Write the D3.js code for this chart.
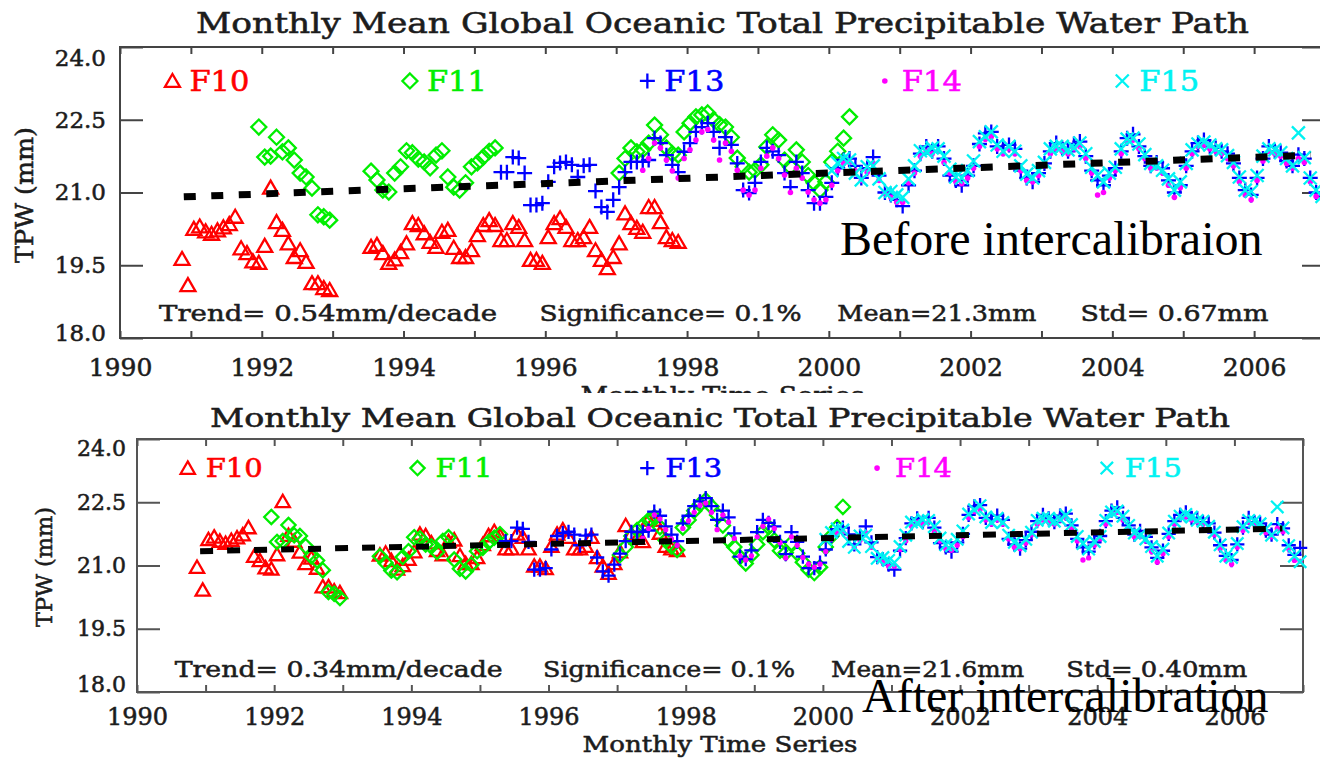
<!DOCTYPE html>
<html>
<head>
<meta charset="utf-8">
<script src="https://cdn.jsdelivr.net/npm/d3@7"></script>
<style>
  html, body { margin: 0; padding: 0; background: #fff; }
  svg { display: block; }
</style>
</head>
<body>
<svg id="chart" width="1320" height="759"></svg>
<script>
// ---------------- data ----------------
const satellites = ["F10", "F11", "F13", "F14", "F15"];
// first month [year, month] of each satellite record
const startMonths = [[1990, 11], [1991, 12], [1995, 5], [1997, 5], [2000, 1]];
const yTickValues = [18, 19.5, 21, 22.5, 24];
const xTickYears = d3.range(1990, 2008);
const chartTitle = "Monthly Mean Global Oceanic Total Precipitable Water Path";
const xAxisTitle = "Monthly Time Series";
const yAxisTitle = "TPW (mm)";

// monthly means (mm), null = no data for that month
const f10Before = [19.63, 19.09,
  20.25, 20.30, 20.20, 20.15, 20.22, 20.28, 20.35, 20.50, 19.85, 19.75, 19.58, 19.55,
  19.90, 21.10, 20.39, 20.23, 19.95, 19.67, 19.81, 19.57, 19.13, 19.13, 19.03, 18.99,
  null, null, null, null, null, null, 19.88, 19.92, 19.75, 19.55, 19.62, 19.77,
  19.95, 20.37, 20.33, 20.16, 19.98, 19.88, 20.19, 20.23, 19.86, 19.67, 19.67, 19.81,
  20.12, 20.33, 20.43, 20.33, 20.02, 20.02, 20.37, 20.29, 20.02, 19.61, 19.61, 19.55,
  20.08, 20.37, 20.47, 20.29, 20.02, 20.02, 20.08, 20.29, 19.81, 19.61, 19.44, 19.67,
  19.95, 20.57, 20.37, 20.27, 20.19, 20.70, 20.70, 20.39, 20.08, 20.02, 19.98];
const f11Before = [22.35,
  21.73, 21.75, 22.14, 21.84, 21.92, 21.67, 21.40, 21.32, 21.09, 20.54, 20.50, 20.43,
  null, null, null, null, null, null, 21.44, 21.26, 21.05, 21.01, 21.40, 21.53,
  21.86, 21.82, 21.69, 21.63, 21.51, 21.77, 21.86, 21.32, 21.11, 21.05, 21.20, 21.53,
  21.61, 21.73, 21.85, 21.92, null, null, null, null, null, null, null, null,
  null, null, null, null, null, null, null, null, null, null, null, null,
  21.40, 21.70, 21.92, 21.84, 21.88, 22.02, 22.39, 22.19, 21.92, 21.80, 21.77, 22.25,
  22.43, 22.56, 22.60, 22.64, 22.50, 22.40, 22.35, 22.14, 21.71, 21.53, 21.42, 21.46,
  21.57, 21.94, 22.19, 22.08, 21.67, 21.53, 21.88, 21.63, 21.35, 21.20, 21.05, 21.22,
  21.63, 21.85, 22.12, 22.56];
const f13Before = [21.42, 21.42, 21.73, 21.71, 21.40, 20.74, 20.74, 20.78,
  21.22, 21.53, 21.61, 21.63, 21.57, 21.32, 21.55, 21.57, 21.03, 20.70, 20.60, 20.85,
  21.11, 21.42, 21.63, 21.63, 21.63, 21.67, 22.12, 22.02, 21.77, 21.57, 21.42, 21.84,
  22.02, 22.25, 22.35, 22.43, 22.25, 21.92, 22.14, 21.98, 21.60, 21.05, 20.99, 21.20,
  21.63, 21.92, 21.85, 21.77, 21.40, 21.11, 21.63, 21.40, 21.05, 20.78, 20.78, 20.91,
  21.20, 21.50, 21.67, 21.70, 21.55, 21.30, 21.50, 21.73, 21.35, 21.00, 20.95, 20.85,
  20.72, 21.15, 21.45, 21.80, 21.95, 21.85, 21.95, 21.70, 21.35, 21.25, 21.15, 21.35,
  21.55, 22.00, 22.22, 22.25, 21.95, 21.90, 21.98, 21.90, 21.45, 21.30, 21.22, 21.40,
  21.60, 21.85, 22.02, 21.92, 21.85, 22.00, 22.05, 21.75, 21.45, 21.25, 21.15, 21.35,
  21.50, 21.85, 22.12, 22.20, 21.95, 21.75, 21.55, 21.62, 21.50, 21.25, 21.00, 21.15,
  21.55, 21.85, 22.02, 22.08, 21.95, 21.92, 21.85, 21.80, 21.60, 21.30, 21.05, 20.95,
  21.30, 21.70, 21.95, 21.85, 21.82, 21.65, 21.55, 21.78, 21.70, 21.30, 21.00, 20.92];
const f14Before = [21.46, 21.70, 22.02, 21.92, 21.67, 21.45, 21.30, 21.70,
  21.88, 22.08, 22.25, 22.30, 22.08, 21.67, 22.02, 21.85, 21.46, 21.05, 20.95, 21.05,
  21.50, 21.75, 21.92, 21.70, 21.36, 21.00, 21.50, 21.30, 21.01, 20.85, 20.78, 20.85,
  21.15, 21.45, 21.60, 21.62, 21.45, 21.25, 21.42, 21.60, 21.25, 20.98, 20.90, 20.80,
  20.80, 21.20, 21.40, 21.75, 21.85, 21.80, 21.85, 21.62, 21.40, 21.22, 21.18, 21.30,
  21.50, 21.95, 22.10, 22.15, 21.90, 21.80, 21.90, 21.80, 21.45, 21.25, 21.22, 21.35,
  21.55, 21.80, 21.90, 21.85, 21.80, 21.90, 21.95, 21.70, 21.40, 20.95, 21.00, 21.30,
  21.45, 21.80, 22.05, 22.08, 21.90, 21.70, 21.50, 21.50, 21.40, 21.15, 20.90, 21.10,
  21.50, 21.80, 21.95, 21.98, 21.90, 21.85, 21.80, 21.70, 21.55, 21.22, 20.95, 20.85,
  21.25, 21.65, 21.85, 21.80, 21.75, 21.60, 21.50, 21.70, 21.62, 21.22, 20.92, 20.88];
const f15Before = [21.45, 21.61, 21.70, 21.67, 21.40, 21.26, 21.53, 21.55, 21.28, 21.00, 21.02, 20.95,
  20.90, 21.28, 21.55, 21.86, 21.84, 21.92, 21.90, 21.75, 21.48, 21.32, 21.30, 21.45,
  21.65, 22.05, 22.15, 22.25, 21.98, 21.85, 21.95, 21.85, 21.55, 21.38, 21.30, 21.45,
  21.62, 21.90, 21.95, 21.95, 21.88, 21.92, 22.02, 21.80, 21.52, 21.35, 21.22, 21.40,
  21.52, 21.90, 22.10, 22.12, 22.00, 21.78, 21.60, 21.55, 21.46, 21.28, 21.05, 21.22,
  21.60, 21.88, 22.00, 22.04, 21.98, 21.90, 21.88, 21.76, 21.62, 21.32, 21.05, 21.02,
  21.35, 21.75, 21.90, 21.88, 21.82, 21.70, 21.55, 22.23, 21.72, 21.30, 21.05, 20.92];

const f10After = [20.96, 20.42,
  21.62, 21.68, 21.58, 21.53, 21.60, 21.66, 21.73, 21.90, 21.22, 21.12, 20.95, 20.92,
  21.26, 22.52, 21.72, 21.58, 21.32, 21.05, 21.18, 20.94, 20.50, 20.50, 20.40, 20.36,
  null, null, null, null, null, null, 21.25, 21.30, 21.12, 20.92, 21.00, 21.15,
  21.33, 21.75, 21.71, 21.54, 21.36, 21.26, 21.57, 21.61, 21.24, 21.05, 21.05, 21.19,
  21.50, 21.71, 21.81, 21.71, 21.40, 21.40, 21.75, 21.67, 21.40, 20.99, 20.99, 20.93,
  21.46, 21.75, 21.85, 21.67, 21.40, 21.40, 21.46, 21.67, 21.19, 20.99, 20.82, 21.05,
  21.33, 21.95, 21.75, 21.65, 21.57, 22.08, 22.08, 21.77, 21.46, 21.40, 21.36];
const f11After = [22.15,
  21.56, 21.58, 21.96, 21.72, 21.70, 21.46, 21.22, 21.12, 20.89, 20.37, 20.33, 20.23,
  null, null, null, null, null, null, 21.22, 21.06, 20.88, 20.84, 21.20, 21.34,
  21.67, 21.64, 21.50, 21.45, 21.32, 21.58, 21.67, 21.14, 20.92, 20.86, 21.02, 21.34,
  21.42, 21.55, 21.66, 21.74, null, null, null, null, null, null, null, null,
  null, null, null, null, null, null, null, null, null, null, null, null,
  21.25, 21.44, 21.70, 21.84, 21.95, 22.08, 22.15, 21.91, 21.60, 21.45, 21.37, 21.90,
  22.08, 22.30, 22.45, 22.55, 22.40, 22.20, 21.95, 21.60, 21.44, 21.20, 21.05, 21.25,
  21.50, 21.79, 21.91, 21.60, 21.35, 21.30, 21.53, 21.29, 21.08, 20.90, 20.82, 20.96,
  21.44, 21.70, 21.91, 22.39];
const f13After = [21.58, 21.58, 21.90, 21.87, 21.56, 20.90, 20.90, 20.94,
  21.38, 21.70, 21.77, 21.80, 21.73, 21.48, 21.71, 21.73, 21.19, 20.86, 20.76, 21.02,
  21.28, 21.58, 21.80, 21.79, 21.80, 21.83, 22.28, 22.18, 21.93, 21.73, 21.58, 22.00,
  22.18, 22.41, 22.52, 22.60, 22.41, 22.08, 22.30, 22.14, 21.76, 21.21, 21.15, 21.36,
  21.79, 22.08, 22.01, 21.93, 21.56, 21.27, 21.79, 21.56, 21.21, 20.94, 20.94, 21.07,
  21.38, 21.70, 21.86, 21.90, 21.74, 21.50, 21.70, 21.93, 21.55, 21.20, 21.15, 21.02,
  20.90, 21.35, 21.65, 22.00, 22.12, 22.03, 22.13, 21.90, 21.53, 21.43, 21.33, 21.55,
  21.75, 22.20, 22.40, 22.43, 22.13, 22.08, 22.18, 22.08, 21.63, 21.50, 21.40, 21.60,
  21.80, 22.05, 22.20, 22.12, 22.03, 22.18, 22.23, 21.95, 21.63, 21.43, 21.33, 21.55,
  21.70, 22.05, 22.30, 22.38, 22.13, 21.95, 21.73, 21.82, 21.68, 21.43, 21.18, 21.35,
  21.75, 22.05, 22.20, 22.26, 22.13, 22.12, 22.03, 22.00, 21.78, 21.48, 21.23, 21.13,
  21.50, 21.90, 22.13, 22.03, 22.00, 21.83, 21.73, 21.98, 21.88, 21.48, 21.25, 21.42];
const f14After = [21.64, 21.88, 22.20, 22.10, 21.85, 21.63, 21.48, 21.88,
  22.06, 22.26, 22.43, 22.48, 22.26, 21.85, 22.20, 22.03, 21.64, 21.23, 21.13, 21.23,
  21.68, 21.93, 22.10, 21.88, 21.54, 21.18, 21.68, 21.48, 21.19, 21.03, 20.96, 21.03,
  21.33, 21.63, 21.78, 21.80, 21.63, 21.43, 21.60, 21.78, 21.43, 21.16, 21.08, 20.98,
  20.98, 21.38, 21.58, 21.93, 22.03, 21.98, 22.03, 21.80, 21.58, 21.40, 21.36, 21.48,
  21.68, 22.13, 22.28, 22.33, 22.08, 21.98, 22.08, 21.98, 21.63, 21.43, 21.40, 21.53,
  21.73, 21.98, 22.08, 22.03, 21.98, 22.08, 22.13, 21.88, 21.58, 21.13, 21.18, 21.48,
  21.63, 21.98, 22.23, 22.26, 22.08, 21.88, 21.68, 21.68, 21.58, 21.33, 21.08, 21.28,
  21.68, 21.98, 22.13, 22.16, 22.08, 22.03, 21.98, 21.88, 21.73, 21.40, 21.13, 21.03,
  21.43, 21.83, 22.03, 21.98, 21.93, 21.78, 21.68, 21.88, 21.80, 21.40, 21.12, 21.10];
const f15After = [21.62, 21.78, 21.87, 21.84, 21.57, 21.43, 21.70, 21.72, 21.45, 21.17, 21.19, 21.12,
  21.07, 21.45, 21.72, 22.03, 22.01, 22.09, 22.07, 21.92, 21.65, 21.49, 21.47, 21.62,
  21.82, 22.22, 22.32, 22.42, 22.15, 22.02, 22.12, 22.02, 21.72, 21.55, 21.47, 21.62,
  21.79, 22.07, 22.12, 22.12, 22.05, 22.09, 22.19, 21.97, 21.69, 21.52, 21.39, 21.57,
  21.69, 22.07, 22.27, 22.29, 22.17, 21.95, 21.77, 21.72, 21.63, 21.45, 21.22, 21.39,
  21.77, 22.05, 22.17, 22.21, 22.15, 22.07, 22.05, 21.93, 21.79, 21.49, 21.22, 21.19,
  21.52, 21.92, 22.07, 22.05, 21.99, 21.87, 21.72, 22.39, 21.89, 21.47, 21.22, 21.09];

// regression summaries printed under each plot
const trendBefore = 0.54;            // mm/decade
const trendAfter = 0.34;             // mm/decade
const trendStartBefore = [1990.9, 20.91];
const trendStartAfter = [1990.92, 21.34];
const trendEndBefore = 2006.8;
const trendEndAfter = 2006.7;
const significanceBefore = "0.1%";
const significanceAfter = "0.1%";
const meanBefore = "21.3";
const meanAfter = "21.6";
const stdBefore = "0.67";
const stdAfter = "0.40";
const captionBefore = "Before intercalibraion";
const captionAfter = "After intercalibration";

// ---------------- styles ----------------
const colors = ["#ff0000", "#00ee00", "#0000ff", "#ff00ff", "#00f2f2"];
const labelFont = "'DejaVu Serif', serif";
const inkColor = "#1c1c1c";

function markerPath(kind, s) {
  switch (kind) {
    case 0: return `M0,${-7 * s}L${7.5 * s},${6 * s}L${-7.5 * s},${6 * s}Z`;              // triangle
    case 1: return `M0,${-7.5 * s}L${7.5 * s},0L0,${7.5 * s}L${-7.5 * s},0Z`;             // diamond
    case 2: return `M${-7.5 * s},0H${7.5 * s}M0,${-7.5 * s}V${7.5 * s}`;                   // plus
    case 4: return `M${-6.5 * s},${-6.5 * s}L${6.5 * s},${6.5 * s}M${-6.5 * s},${6.5 * s}L${6.5 * s},${-6.5 * s}`; // cross
  }
  return "";
}

function monthly(start, values) {
  const [y0, m0] = start;
  const pts = [];
  values.forEach((v, i) => {
    if (v !== null) pts.push({ t: y0 + (m0 - 1 + i + 0.5) / 12, v });
  });
  return pts;
}

const svg = d3.select("#chart");
const defs = svg.append("defs");

function addText(g, str, x, y, o) {
  const fill = o.fill || inkColor;
  const t = g.append("text")
    .attr("x", x).attr("y", y)
    .attr("font-family", o.family || labelFont)
    .attr("font-size", o.size)
    .attr("fill", fill)
    .attr("text-anchor", o.anchor || "start")
    .text(str);
  if (o.heavy !== false) t.attr("stroke", fill).attr("stroke-width", 0.55);
  if (o.length) t.attr("textLength", o.length).attr("lengthAdjust", "spacingAndGlyphs");
  if (o.transform) t.attr("transform", o.transform);
  return t;
}

const panels = [
  {
    id: "before",
    clip: [0, 0, 1320, 393],
    left: 120, right: 1325, top: 47, bottom: 338,
    values: [f10Before, f11Before, f13Before, f14Before, f15Before],
    trend: trendBefore, trendStart: trendStartBefore, trendEnd: trendEndBefore,
    stats: [significanceBefore, meanBefore, stdBefore],
    caption: captionBefore, captionPos: [840, 255],
    title: { y: 33, size: 28, length: 1053 },
    yTitle: { x: 33, y: 195, size: 25, length: 136 },
    xTitle: { y: 404, size: 24, length: 284 },
    yTickLen: 23, xTickLen: 7, yPad: 14, xPad: 20,
    yLabelSize: 23, xLabelSize: 25, yEdgeShift: [11, -5],
    statsSize: 23, statsLengths: [338, 262, 199, 188], statsY: 18.35,
    legendSize: 28, legendLength: 60, legendY: 23.3, legendTextGap: 17,
    markerScale: 1, frameColor: "#444", trendWidth: 7, dash: "12,15.5"
  },
  {
    id: "after",
    clip: [0, 393, 1320, 366],
    left: 137, right: 1303, top: 439, bottom: 692,
    values: [f10After, f11After, f13After, f14After, f15After],
    trend: trendAfter, trendStart: trendStartAfter, trendEnd: trendEndAfter,
    stats: [significanceAfter, meanAfter, stdAfter],
    caption: captionAfter, captionPos: [862, 712],
    title: { y: 427, size: 26, length: 1020 },
    yTitle: { x: 52, y: 567, size: 23, length: 120 },
    xTitle: { y: 752, size: 23, length: 275 },
    yTickLen: 23, xTickLen: 7, yPad: 11, xPad: 16,
    yLabelSize: 22, xLabelSize: 24, yEdgeShift: [9, -8],
    statsSize: 23, statsLengths: [328, 252, 193, 181], statsY: 18.36,
    legendSize: 26, legendLength: 57, legendY: 23.31, legendTextGap: 18,
    markerScale: 0.95, frameColor: "#555", trendWidth: 6, dash: "13,14"
  }
];

// legend and statistics anchors along the time axis
const legendYears = [1990.74, 1994.09, 1997.44, 2000.79, 2004.14];
const statsYears = [1990.55, 1995.92, 2000.12, 2003.55];

panels.forEach(cfg => {
  defs.append("clipPath").attr("id", cfg.id + "-clip")
    .append("rect").attr("x", cfg.clip[0]).attr("y", cfg.clip[1])
    .attr("width", cfg.clip[2]).attr("height", cfg.clip[3]);
  const g = svg.append("g").attr("clip-path", `url(#${cfg.id}-clip)`);

  const x = d3.scaleLinear().domain([1990, 2007]).range([cfg.left, cfg.right]);
  const y = d3.scaleLinear().domain([18, 24]).range([cfg.bottom, cfg.top]);
  const cx = (cfg.left + cfg.right) / 2;

  // title
  addText(g, chartTitle, cx, cfg.title.y, { size: cfg.title.size, anchor: "middle", length: cfg.title.length });

  // frame
  g.append("rect")
    .attr("x", cfg.left).attr("y", cfg.top)
    .attr("width", cfg.right - cfg.left).attr("height", cfg.bottom - cfg.top)
    .attr("fill", "none").attr("stroke", cfg.frameColor).attr("stroke-width", 2);

  const styleAxis = (sel) => {
    sel.select(".domain").remove();
    sel.selectAll(".tick line").attr("stroke", cfg.frameColor).attr("stroke-width", 2);
    sel.selectAll(".tick text").attr("font-family", labelFont).attr("fill", inkColor)
      .attr("stroke", inkColor).attr("stroke-width", 0.55);
  };

  // left axis with labels
  const yl = g.append("g").attr("transform", `translate(${cfg.left},0)`)
    .call(d3.axisLeft(y).tickValues(yTickValues).tickSize(-cfg.yTickLen)
      .tickPadding(cfg.yPad).tickFormat(d3.format(".1f")));
  styleAxis(yl);
  yl.selectAll(".tick text").attr("font-size", cfg.yLabelSize)
    .attr("y", d => d === 24 ? cfg.yEdgeShift[0] : d === 18 ? cfg.yEdgeShift[1] : 0);

  // right axis ticks
  const yr = g.append("g").attr("transform", `translate(${cfg.right},0)`)
    .call(d3.axisRight(y).tickValues(yTickValues).tickSize(-cfg.yTickLen).tickFormat(""));
  styleAxis(yr);

  // bottom axis with labels on even years
  const xb = g.append("g").attr("transform", `translate(0,${cfg.bottom})`)
    .call(d3.axisBottom(x).tickValues(xTickYears).tickSize(-cfg.xTickLen)
      .tickPadding(cfg.xPad).tickFormat(d => d % 2 === 0 && d < 2007 ? String(d) : ""));
  styleAxis(xb);
  xb.selectAll(".tick text").attr("font-size", cfg.xLabelSize);

  // top axis ticks
  const xt = g.append("g").attr("transform", `translate(0,${cfg.top})`)
    .call(d3.axisTop(x).tickValues(xTickYears).tickSize(-cfg.xTickLen).tickFormat(""));
  styleAxis(xt);

  // axis titles
  addText(g, yAxisTitle, 0, 0, {
    size: cfg.yTitle.size, anchor: "middle", length: cfg.yTitle.length,
    transform: `translate(${cfg.yTitle.x},${cfg.yTitle.y}) rotate(-90)`
  });
  addText(g, xAxisTitle, cx, cfg.xTitle.y, { size: cfg.xTitle.size, anchor: "middle", length: cfg.xTitle.length });

  // satellite series
  const plot = g.append("g");
  satellites.forEach((name, k) => {
    const pts = monthly(startMonths[k], cfg.values[k]);
    const grp = plot.append("g").attr("class", "sat-" + name);
    if (k === 3) {
      grp.selectAll("circle").data(pts).join("circle")
        .attr("cx", d => x(d.t)).attr("cy", d => y(d.v))
        .attr("r", 2.8 * cfg.markerScale).attr("fill", colors[k]);
    } else {
      grp.selectAll("path").data(pts).join("path")
        .attr("transform", d => `translate(${x(d.t)},${y(d.v)})`)
        .attr("d", markerPath(k, cfg.markerScale))
        .attr("fill", "none").attr("stroke", colors[k]).attr("stroke-width", 2.3);
    }
  });

  // linear trend
  const [t0, v0] = cfg.trendStart;
  const slope = cfg.trend / 10;
  g.append("line")
    .attr("x1", x(t0)).attr("y1", y(v0))
    .attr("x2", x(cfg.trendEnd)).attr("y2", y(v0 + slope * (cfg.trendEnd - t0)))
    .attr("stroke", "#000").attr("stroke-width", cfg.trendWidth)
    .attr("stroke-dasharray", cfg.dash);

  // legend
  satellites.forEach((name, k) => {
    const lx = x(legendYears[k]);
    const ly = y(cfg.legendY);
    if (k === 3) {
      g.append("circle").attr("cx", lx).attr("cy", ly).attr("r", 2.8).attr("fill", colors[k]);
    } else {
      g.append("path").attr("transform", `translate(${lx},${ly})`)
        .attr("d", markerPath(k, cfg.markerScale))
        .attr("fill", "none").attr("stroke", colors[k]).attr("stroke-width", 2.3);
    }
    addText(g, name, lx + cfg.legendTextGap, ly + cfg.legendSize * 0.36, {
      size: cfg.legendSize, fill: colors[k], length: cfg.legendLength
    });
  });

  // statistics line
  const statStrings = [
    `Trend= ${cfg.trend.toFixed(2)}mm/decade`,
    `Significance= ${cfg.stats[0]}`,
    `Mean=${cfg.stats[1]}mm`,
    `Std= ${cfg.stats[2]}mm`
  ];
  statStrings.forEach((s, i) => {
    addText(g, s, x(statsYears[i]), y(cfg.statsY), {
      size: cfg.statsSize, length: cfg.statsLengths[i]
    });
  });

  // caption
  addText(g, cfg.caption, cfg.captionPos[0], cfg.captionPos[1], {
    size: 48, family: "'Liberation Serif', 'Times New Roman', serif", fill: "#000", heavy: false
  });
});
</script>
</body>
</html>
